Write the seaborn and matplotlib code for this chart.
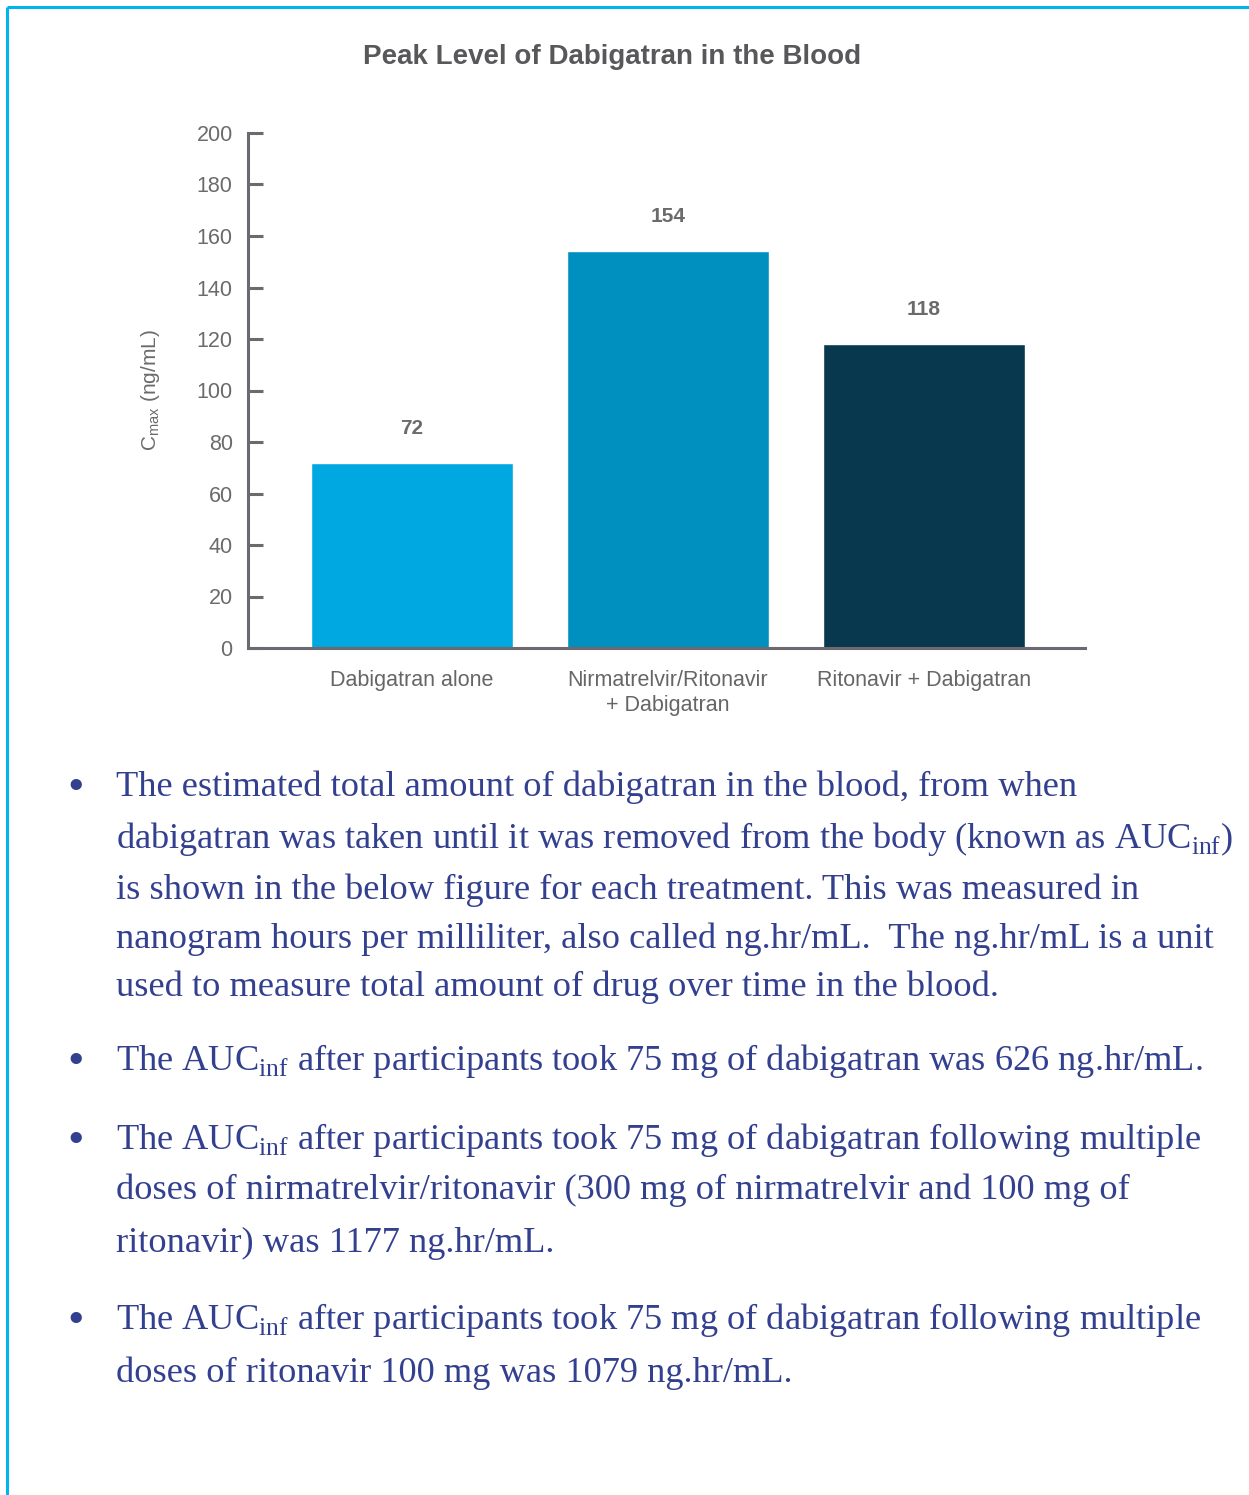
import matplotlib
matplotlib.use("Agg")
import matplotlib.pyplot as plt
import seaborn as sns
import pandas as pd
from matplotlib.lines import Line2D

# ---- data ----
categories = ["Dabigatran alone", "Nirmatrelvir/Ritonavir\n+ Dabigatran", "Ritonavir + Dabigatran"]
cmax_values = [72, 154, 118]
bar_colors = ["#00A8E2", "#0090C0", "#08384E"]
y_ticks = [0, 20, 40, 60, 80, 100, 120, 140, 160, 180, 200]

title_text = "Peak Level of Dabigatran in the Blood"
ylabel_text = r"C$_{\mathsf{max}}$ (ng/mL)"

bullets = [
    ["The estimated total amount of dabigatran in the blood, from when",
     r"dabigatran was taken until it was removed from the body (known as AUC$_{\mathrm{inf}}$)",
     "is shown in the below figure for each treatment. This was measured in",
     "nanogram hours per milliliter, also called ng.hr/mL.  The ng.hr/mL is a unit",
     "used to measure total amount of drug over time in the blood."],
    [r"The AUC$_{\mathrm{inf}}$ after participants took 75 mg of dabigatran was 626 ng.hr/mL."],
    [r"The AUC$_{\mathrm{inf}}$ after participants took 75 mg of dabigatran following multiple",
     "doses of nirmatrelvir/ritonavir (300 mg of nirmatrelvir and 100 mg of",
     "ritonavir) was 1177 ng.hr/mL."],
    [r"The AUC$_{\mathrm{inf}}$ after participants took 75 mg of dabigatran following multiple",
     "doses of ritonavir 100 mg was 1079 ng.hr/mL."],
]
baselines_px = [[796, 848, 899, 948, 996], [1070], [1149, 1199, 1252], [1329, 1382]]

# ---- style ----
sns.set_style("white")
plt.rcParams["font.family"] = ["Liberation Sans", "DejaVu Sans"]
plt.rcParams["mathtext.fontset"] = "custom"
plt.rcParams["mathtext.rm"] = "Liberation Serif"
plt.rcParams["mathtext.sf"] = "Liberation Sans"

W, H = 1249, 1495
fig = plt.figure(figsize=(W / 100, H / 100), dpi=100)
fig.patch.set_facecolor("white")

ax = fig.add_axes([248 / W, 1 - 648 / H, (1085 - 248) / W, (648 - 133) / H])
df = pd.DataFrame({"cat": categories, "val": cmax_values})
sns.barplot(data=df, x="cat", y="val", hue="cat", palette=bar_colors,
            saturation=1, width=0.79, legend=False, ax=ax)

ax.set_xlim(-0.64, 2.63)
ax.set_ylim(0, 200)
ax.set_yticks(y_ticks)
ax.set_xlabel("")
ax.set_ylabel(ylabel_text, fontsize=15, color="#6b6b6b")
ax.yaxis.set_label_coords(-0.103, 0.5)

axis_col = "#6c6a70"
for s in ["top", "right"]:
    ax.spines[s].set_visible(False)
for s in ["left", "bottom"]:
    ax.spines[s].set_color(axis_col)
    ax.spines[s].set_linewidth(2.2)

ax.tick_params(axis="y", direction="in", length=11, width=2.2, color=axis_col,
               labelsize=15.5, labelcolor="#6b6b6b", pad=11, left=True)
ax.tick_params(axis="x", length=0, labelsize=15.5, labelcolor="#666666", pad=15.5)
for lab in ax.get_xticklabels():
    lab.set_linespacing(1.3)

for cont in ax.containers:
    ax.bar_label(cont, padding=18, fontsize=15, fontweight="bold", color="#6b6b6b")

fig.text(612 / W, 1 - 57 / H, title_text, ha="center", va="center",
         fontsize=20, fontweight="bold", color="#58585a")

# ---- bullet text ----
text_col = "#33408F"
serif = ["Liberation Serif", "DejaVu Serif"]
for lines, bls in zip(bullets, baselines_px):
    fig.text(67 / W, 1 - (bls[0] + 4) / H, "\u2022", ha="left", va="baseline",
             fontsize=34, color=text_col, family=serif)
    for line, b in zip(lines, bls):
        fig.text(116 / W, 1 - b / H, line, ha="left", va="baseline",
                 fontsize=26.2, color=text_col, family=serif)

# ---- border ----
bc = "#00B5EF"
fig.add_artist(Line2D([7 / W, 1], [1 - 7 / H, 1 - 7 / H], transform=fig.transFigure,
                      color=bc, linewidth=2.2, solid_capstyle="butt"))
fig.add_artist(Line2D([7 / W, 7 / W], [0, 1 - 7 / H], transform=fig.transFigure,
                      color=bc, linewidth=2.2, solid_capstyle="butt"))

fig.savefig("out.png", dpi=100)
